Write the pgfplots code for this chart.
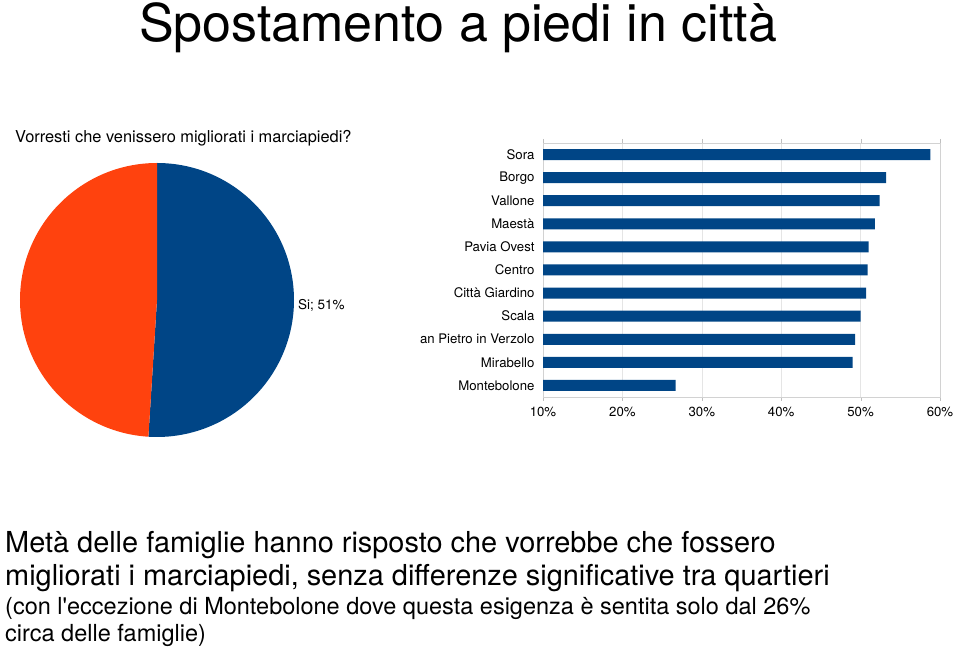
\documentclass[border=0pt]{standalone}
\usepackage{fontspec}
\setmainfont{TeX Gyre Heros}
\usepackage{pgfplots}
\usepackage{pgfplotstable}
\pgfplotsset{compat=1.18}
\definecolor{pieblue}{HTML}{004586}
\definecolor{pieorange}{HTML}{FF420E}

\pgfplotstableread{
label value
Si 51
No 49
}\pietable

\pgfplotstableread[col sep=comma]{
idx,name,value
0,Montebolone,26.7
1,Mirabello,49.0
2,an Pietro in Verzolo,49.3
3,Scala,50.0
4,Città Giardino,50.7
5,Centro,50.9
6,Pavia Ovest,51.0
7,Maestà,51.8
8,Vallone,52.4
9,Borgo,53.2
10,Sora,58.8
}\bartable

\begin{document}
\begin{tikzpicture}
\path[use as bounding box] (0,0) rectangle (959pt,648pt);

\pgfplotstablegetelem{0}{value}\of\pietable
\xdef\vSi{\pgfplotsretval}
\pgfplotstablegetelem{1}{value}\of\pietable
\xdef\vNo{\pgfplotsretval}

% title
\node[anchor=base, font=\fontsize{52}{60}\selectfont, inner sep=0pt] at (458pt,606pt) {Spostamento a piedi in città};
% subtitle
\node[anchor=base west, font=\fontsize{16.4}{19}\selectfont, inner sep=0pt] at (15pt,505pt) {Vorresti che venissero migliorati i marciapiedi?};

% pie
\begin{axis}[at={(20pt,211pt)}, anchor=south west, scale only axis,
  width=274pt, height=274pt, hide axis,
  xmin=-1, xmax=1, ymin=-1, ymax=1, clip=false]
  \fill[pieblue] (axis cs:0,0) -- (axis cs:0,1) arc[start angle=90, delta angle={-3.6*\vSi}, radius=137pt] -- cycle;
  \fill[pieorange] (axis cs:0,0) -- (axis cs:0,1) arc[start angle=90, delta angle={3.6*\vNo}, radius=137pt] -- cycle;
\end{axis}
\node[anchor=base west, font=\fontsize{13.5}{16}\selectfont, inner sep=0pt] at (298pt,338pt) {Si; 51\%};

% bars
\begin{axis}[at={(543pt,251pt)}, anchor=south west, scale only axis,
  width=397pt, height=254pt,
  xbar, bar width=11pt,
  xmin=10, xmax=60, ymin=-0.5, ymax=10.5,
  xtick={10,20,30,40,50,60},
  xticklabels={10\%,20\%,30\%,40\%,50\%,60\%},
  ytick={0,...,10},
  yticklabels from table={\bartable}{name},
  axis line style={gray!35},
  xmajorgrids, grid style={gray!20},
  x tick style={gray!50}, tick align=outside, major tick length=4pt,
  y tick style={draw=none},
  tick label style={font=\fontsize{13.2}{15}\selectfont},
  yticklabel style={xshift=-1pt},
  xticklabel style={yshift=-3pt},
]
  \addplot[fill=pieblue, draw=none] table[x=value, y=idx] {\bartable};
\end{axis}

% bottom text
\node[anchor=base west, font=\fontsize{28.9}{33}\selectfont, inner sep=0pt] at (5pt,95pt) {Metà delle famiglie hanno risposto che vorrebbe che fossero};
\node[anchor=base west, font=\fontsize{28.9}{33}\selectfont, inner sep=0pt] at (5pt,62pt) {migliorati i marciapiedi, senza differenze significative tra quartieri};
\node[anchor=base west, font=\fontsize{23.5}{28}\selectfont, inner sep=0pt] at (5pt,33pt) {(con l\textquotesingle eccezione di Montebolone dove questa esigenza è sentita solo dal 26\%};
\node[anchor=base west, font=\fontsize{23.5}{28}\selectfont, inner sep=0pt] at (5pt,6pt) {circa delle famiglie)};
\end{tikzpicture}
\end{document}
